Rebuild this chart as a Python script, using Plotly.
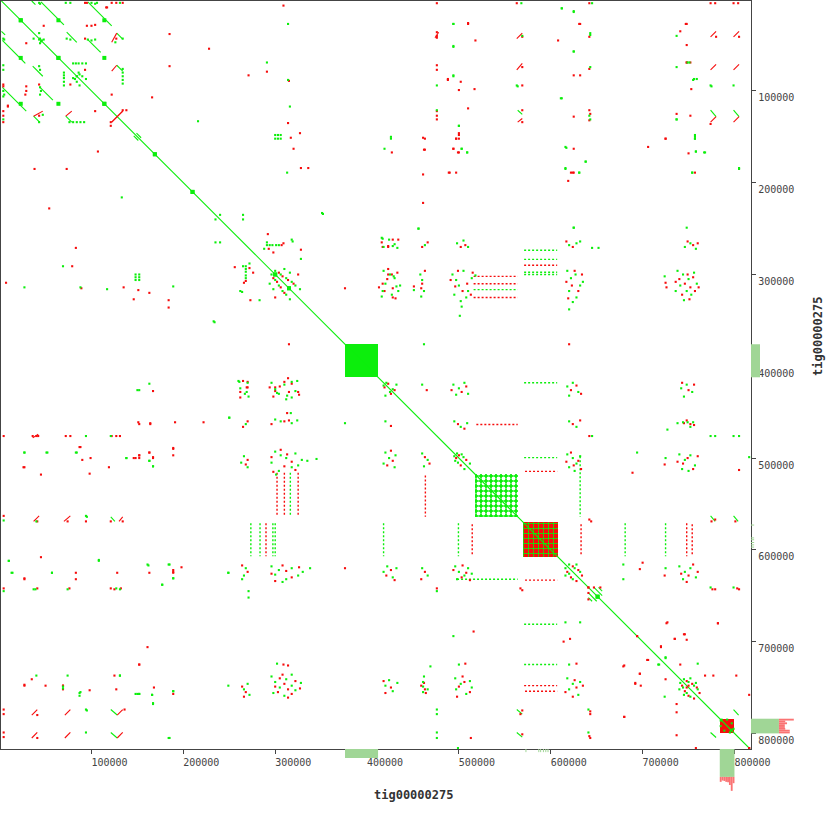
import plotly.graph_objects as go

KB = 1000
CONTIG = "tig00000275"
X_RANGE_KB = [1.5, 818.0]
Y_RANGE_KB = [817.0, 2.0]
TICKS_KB = [100, 200, 300, 400, 500, 600, 700, 800]
TICK_TEXT = ["100000", "200000", "300000", "400000", "500000", "600000", "700000", "800000"]

GREEN = "rgb(12,238,12)"
RED = "rgb(246,12,12)"
COV_GREEN = "rgb(160,214,150)"
COV_PINK = "rgb(250,115,115)"
AXIS = "#444444"

# ---------------- alignment data (kb) ----------------
main_diag = [[0, 0, 817, 817]]

# forward (green) off-diagonal segments x0,y0,x1,y1 (mirrored about the diagonal)
fwd_segs = [
    [35, 2, 39, 6], [45, 3, 70, 28], [96, 3, 122, 29], [73, 36, 84, 47], [96, 44, 110, 58],
    [127.5, 37, 134, 43.5], [127.5, 72, 134, 78.5],
    [121, 564, 125.5, 569], [121, 774, 128, 780], [121, 799, 128, 805],
    [563, 774, 569, 779], [563, 799, 569, 804], [774, 799, 780, 804.5],
    [641, 647, 650, 656], [641, 652, 645, 656], [146, 149, 151, 154],
]
# reverse (red) segments
rev_segs = [
    [122, 47, 127.5, 37], [122, 78.5, 127.5, 72], [122, 134, 134, 122],
    [36, 478, 42, 474],
    [37, 569, 43, 563], [70, 569, 77, 563], [130, 569, 134, 564],
    [35, 780, 41, 774], [71, 780, 77, 774], [128, 780, 134, 774],
    [35, 805, 41, 799], [71, 805, 77, 799], [128, 805, 134, 799],
]

# dotted repeat tracks: (y, x_start, x_end, colour)
dotted_tracks = [
    (302, 516, 564, "r"), (310, 516, 564, "r"), (316.5, 516, 564, "g"), (325, 516, 564, "r"),
    (273.5, 571, 607, "g"), (283.5, 571, 607, "g"), (290, 571, 607, "r"), (297.5, 571, 607, "g"),
    (300, 571, 607, "g"), (418, 571, 607, "g"), (463.5, 519, 564, "r"), (499.5, 571, 607, "g"),
    (514.5, 572, 607, "r"), (632, 498, 564, "g"), (633, 572, 607, "r"), (681, 571, 607, "g"),
    (725, 571, 607, "g"), (748, 571, 607, "r"), (754, 572, 607, "r"),
]

# small repeat blobs (x, y)
blob_pts = [(23, 23), (64, 64), (114, 114), (169, 169), (210, 210), (64, 23), (114, 23), (114, 64),
            (300, 300), (315, 315), (651, 651)]

green_x = [100, 104, 106, 72, 77, 43, 44, 131, 96, 100, 104, 134, 126, 43, 44, 46, 48, 73, 77,
           134, 134, 134, 134, 134, 216, 80, 83, 86, 90, 94, 86, 87, 90, 94, 84,
           94, 121, 4.4, 40, 94, 95, 4.4, 37, 39, 74, 127, 131, 94, 95, 94, 476, 476, 476, 476, 476,
           641, 641, 138, 163, 167, 250, 162, 185, 189, 177, 10, 108, 27, 51, 83, 13, 57, 40, 74, 131,
           69, 87, 148, 152, 166, 167, 189, 185, 87,
           314, 291, 314, 316, 300, 303, 306, 300, 303, 306, 313, 240, 265, 265, 352,
           494, 494, 494, 500, 503, 509, 426, 426, 419, 612, 625, 625, 612, 616, 638, 616, 631,
           749, 755, 737, 757, 757, 758, 767, 754, 805, 748, 625, 456,
           416, 233, 283, 265, 264, 269, 261, 302, 318, 313, 317,
           376, 335, 345, 338, 249, 271, 271, 268,
           469, 462, 461, 461, 632, 616, 725, 718, 499, 760, 494,
           786, 792, 797, 799, 789]
green_y = [4, 5, 4, 4, 4, 4, 5, 4, 44, 45, 44, 43, 47, 37, 43, 45, 44, 43, 44,
           76, 80, 84, 88, 92, 133, 70, 70, 70, 70, 70, 80, 82, 84, 87, 84,
           476, 476, 568, 569, 563, 564, 645, 643, 643, 643, 642, 643, 774, 775, 799, 774, 779, 799, 805, 645,
           774, 799, 500, 503, 509, 456, 617, 616, 631, 638, 612, 611, 494, 494, 494, 625, 625, 737, 737, 737,
           751, 759, 757, 757, 758, 768, 754, 805, 756,
           27, 69, 88, 117, 148, 148, 148, 152, 152, 152, 189, 235, 235, 240, 234,
           27, 52, 84, 138, 163, 167, 150, 152, 163, 10, 14, 57, 108, 161, 177, 184, 189,
           69, 88, 131, 150, 152, 166, 167, 189, 184, 249, 249, 250,
           260, 351, 328, 291, 319, 428, 417, 429, 417, 432, 451,
           462, 503, 501, 620, 625, 645, 652, 463,
           727, 738, 749, 755, 679, 679, 717, 725, 816, 724, 694,
           785, 785, 796, 795, 797]

red_x = [48, 93, 95, 116, 122, 127, 134, 95, 100, 104, 93, 127, 93, 185, 185, 166, 122, 134, 138, 117,
         4.4, 36, 40, 42, 72, 77, 122, 127, 131,
         4.4, 41, 74, 94, 121, 134, 4.4, 41, 76, 121, 125, 132,
         4.4, 4.4, 41, 136, 4.4, 4.4, 41,
         569, 567, 569, 643, 643, 642, 643, 476, 567, 569, 513,
         87, 26, 45, 98, 146, 152, 163, 167, 152, 164, 189, 222, 189, 27, 83, 125, 27, 69, 161, 152, 189,
         309, 228, 291, 271, 315, 314, 317, 327, 320, 328, 336,
         510, 488, 502, 500, 510, 500, 500, 497, 494, 499, 489, 497, 461, 462, 461, 427,
         632, 608, 632, 625, 625, 622, 625, 619, 747, 741, 748, 748, 752, 753, 752, 725, 750,
         376, 256, 273, 268, 270, 269, 294, 300, 300, 310, 314, 325, 313,
         376, 270, 265,
         614, 621, 516, 462, 463, 727, 782, 694, 720, 705, 697, 692, 680, 758, 745, 748, 735,
         768, 777, 802, 680, 741, 816, 641, 641, 641]
red_y = [29, 4, 4, 9, 4, 4, 4, 29, 29, 28, 43, 43, 77, 38, 73, 107, 104, 121, 121, 9,
         476, 476, 476, 476, 476, 476, 476, 476, 476,
         563, 569, 569, 569, 569, 569, 642, 642, 642, 642, 643, 642,
         774, 779, 780, 774, 799, 804, 805,
         775, 779, 801, 776, 779, 803, 805, 642, 642, 644, 805,
         488, 510, 518, 517, 500, 497, 494, 500, 463, 463, 490, 461, 624, 631, 625, 737, 748, 748, 706, 725, 757,
         7, 54, 79, 83, 89, 135, 151, 146, 163, 184, 184,
         27, 88, 90, 99, 119, 148, 152, 152, 163, 167, 189, 189, 151, 164, 191, 167,
         27, 45, 83, 128, 163, 189, 189, 198, 27, 35, 50, 69, 69, 98, 127, 152, 168,
         315, 292, 328, 307, 417, 423, 423, 423, 427, 417, 413, 428, 451,
         620, 460, 466,
         700, 697, 689, 745, 752, 679, 680, 694, 706, 720, 735, 746, 782, 816, 692, 698, 697,
         737, 737, 737, 726, 725, 816, 641, 647, 654]

# repeat-cluster dots between repeat families
cluster_green_x = [291, 294, 297, 301, 304, 288, 318, 424, 430, 418, 433, 498, 505, 510, 620, 628, 632, 746, 752, 758,
                   418, 425, 430, 420, 434, 427, 436, 416, 458, 460, 462, 459,
                   493, 497, 500, 505, 510, 514, 508, 518, 495, 502,
                   618, 622, 627, 632, 620, 628, 635, 624, 724,
                   738, 744, 750, 756, 741, 748, 753, 759, 745, 736,
                   494, 500, 506, 510, 497, 618, 624, 630, 620, 742, 748, 754, 745, 460,
                   495, 502, 509, 620, 628, 744, 752,
                   618, 624, 628, 620, 632, 626, 725, 740, 746, 752, 757, 743, 750,
                   740, 746, 752, 758, 744, 725,
                   300, 306, 312, 318, 322, 327, 316, 310, 745, 750, 756, 760, 752, 758,
                   498, 505, 512, 503, 620, 626, 632, 628, 418, 425, 432]
cluster_green_y = [268, 268, 268, 268, 268, 272, 262, 262, 267, 270, 271, 266, 263, 270, 268, 266, 264, 270, 266, 272,
                   296, 300, 304, 310, 318, 322, 312, 324, 300, 306, 318, 324,
                   300, 306, 312, 296, 318, 304, 325, 301, 322, 329,
                   296, 304, 300, 312, 318, 325, 308, 330, 302,
                   296, 300, 305, 298, 312, 318, 322, 310, 328, 318,
                   420, 424, 418, 430, 431, 422, 418, 428, 432, 424, 420, 428, 433, 420,
                   460, 466, 462, 460, 466, 461, 466,
                   496, 500, 506, 510, 498, 514, 500, 496, 502, 497, 508, 512, 514,
                   618, 624, 620, 630, 632, 620,
                   296, 300, 304, 308, 312, 316, 298, 294, 741, 744, 748, 752, 740, 745,
                   495, 499, 506, 496, 616, 620, 624, 616, 421, 428, 420]
cluster_red_x = [293, 298, 309, 416, 423, 428, 434, 502, 507, 624, 617, 749, 755, 760,
                 422, 428, 433, 419, 431, 460, 463, 459,
                 491, 499, 504, 509, 513, 496, 515,
                 617, 623, 630, 634, 619, 626, 725, 726,
                 740, 746, 752, 757, 749, 743, 755, 761, 751, 736,
                 503, 508, 492, 622, 628, 633, 750, 756, 743, 465,
                 499, 506, 624, 632, 748, 756,
                 622, 630, 617, 625, 633, 724, 744, 749, 755, 760, 738,
                 742, 750, 755, 760, 748, 724,
                 304, 314, 320, 325, 308, 748, 754, 759, 762, 750,
                 500, 508, 624, 630, 634, 423, 430]
cluster_red_y = [272, 276, 266, 265, 270, 262, 262, 270, 268, 270, 264, 264, 268, 266,
                 305, 315, 298, 318, 326, 310, 296, 315,
                 306, 296, 318, 310, 322, 313, 298,
                 308, 312, 318, 300, 326, 296, 309, 314,
                 305, 310, 314, 318, 300, 322, 303, 314, 327, 308,
                 428, 422, 426, 426, 421, 430, 426, 420, 418, 426,
                 463, 468, 463, 459, 459, 464,
                 494, 503, 504, 508, 512, 507, 506, 500, 512, 498, 504,
                 626, 628, 616, 624, 635, 628,
                 298, 306, 310, 300, 302, 743, 746, 750, 756, 748,
                 497, 502, 618, 622, 628, 419, 426]

# self-repeat blocks (start kb, end kb)
solid_blocks = [(376, 412, "g"), (784, 800, "r")]
checker_blocks = [(517, 564, "g"), (570, 608, "r")]

# coverage strips along the axes
cov_regions = [(376, 412), (784, 800)]
cov_depth = [1.0, 3.1]
pink_pos = [784, 786, 788, 790, 792, 794, 796, 798]
pink_bottom = [0.55, 0.4, 0.45, 0.55, 0.6, 0.9, 1.55, 0.7]
pink_right = [1.65, 0.7, 0.9, 0.65, 0.65, 0.7, 1.2, 1.2]
faint_marks = [573, 587, 589, 592, 594.6, 597]
faint_depth = 0.35

# ---------------- build figure ----------------
COL = {"g": GREEN, "r": RED}
fig = go.Figure()


def seg_xy(segs, mirror=True):
    xs, ys = [], []
    for x0, y0, x1, y1 in segs:
        xs += [x0 * KB, x1 * KB, None]
        ys += [y0 * KB, y1 * KB, None]
        if mirror:
            xs += [y0 * KB, y1 * KB, None]
            ys += [x0 * KB, x1 * KB, None]
    return xs, ys


def sym(xl, yl):
    return [v * KB for v in xl] + [v * KB for v in yl], [v * KB for v in yl] + [v * KB for v in xl]


# blocks
for s, e, c in solid_blocks:
    fig.add_trace(go.Bar(x=[(s + e) / 2 * KB], y=[(e - s) * KB], base=[s * KB], width=[(e - s) * KB],
                         marker=dict(color=COL[c], line=dict(width=0)), hoverinfo="skip"))
for s, e, c in checker_blocks:
    if c == "g":
        pat = dict(shape=".", bgcolor=GREEN, fgcolor="white", size=5, solidity=0.45, fillmode="replace")
    else:
        pat = dict(shape="+", bgcolor=RED, fgcolor=GREEN, size=5, solidity=0.3, fillmode="replace")
    fig.add_trace(go.Bar(x=[(s + e) / 2 * KB], y=[(e - s) * KB], base=[s * KB], width=[(e - s) * KB],
                         marker=dict(color=COL[c], line=dict(width=0), pattern=pat), hoverinfo="skip"))

# dotted tracks
for c in ["g", "r"]:
    segs = [[x0, y, x1, y] for (y, x0, x1, cc) in dotted_tracks if cc == c]
    xs, ys = seg_xy(segs)
    fig.add_trace(go.Scatter(x=xs, y=ys, mode="lines", line=dict(color=COL[c], width=1.4, dash="2px,2px"),
                             hoverinfo="skip"))

# solid alignments
xs, ys = seg_xy(main_diag, mirror=False)
fig.add_trace(go.Scatter(x=xs, y=ys, mode="lines", line=dict(color=GREEN, width=1.1), hoverinfo="skip"))
xs, ys = seg_xy(fwd_segs)
fig.add_trace(go.Scatter(x=xs, y=ys, mode="lines", line=dict(color=GREEN, width=1.1), hoverinfo="skip"))
xs, ys = seg_xy(rev_segs)
fig.add_trace(go.Scatter(x=xs, y=ys, mode="lines", line=dict(color=RED, width=1.1), hoverinfo="skip"))

# dots
gx, gy = sym(green_x + cluster_green_x, green_y + cluster_green_y)
rx, ry = sym(red_x + cluster_red_x, red_y + cluster_red_y)
fig.add_trace(go.Scatter(x=rx, y=ry, mode="markers",
                         marker=dict(symbol="square", size=2.1, color=RED, line=dict(width=0)), hoverinfo="skip"))
fig.add_trace(go.Scatter(x=gx, y=gy, mode="markers",
                         marker=dict(symbol="square", size=2.1, color=GREEN, line=dict(width=0)), hoverinfo="skip"))
bx, by = sym([p[0] for p in blob_pts], [p[1] for p in blob_pts])
fig.add_trace(go.Scatter(x=bx, y=by, mode="markers",
                         marker=dict(symbol="square", size=4, color=GREEN, line=dict(width=0)), hoverinfo="skip"))

# coverage strips (outside the plotting area)
PLOT_W, PLOT_H = 749, 748
DEPTH_PX = 9
shapes = []
for (s, e), d in zip(cov_regions, cov_depth):
    shapes.append(dict(type="rect", xref="x", yref="paper", x0=s * KB, x1=e * KB, y0=0,
                       y1=-d * DEPTH_PX / PLOT_H, fillcolor=COV_GREEN, line=dict(width=0)))
    shapes.append(dict(type="rect", yref="y", xref="paper", y0=s * KB, y1=e * KB, x0=1,
                       x1=1 + d * DEPTH_PX / PLOT_W, fillcolor=COV_GREEN, line=dict(width=0)))
base_d = cov_depth[1]
for p, lb, lr in zip(pink_pos, pink_bottom, pink_right):
    shapes.append(dict(type="rect", xref="x", yref="paper", x0=p * KB, x1=(p + 2) * KB,
                       y0=-base_d * DEPTH_PX / PLOT_H, y1=-(base_d + lb) * DEPTH_PX / PLOT_H,
                       fillcolor=COV_PINK, line=dict(width=0)))
    shapes.append(dict(type="rect", yref="y", xref="paper", y0=p * KB, y1=(p + 2) * KB,
                       x0=1 + base_d * DEPTH_PX / PLOT_W, x1=1 + (base_d + lr) * DEPTH_PX / PLOT_W,
                       fillcolor=COV_PINK, line=dict(width=0)))
for m in faint_marks:
    shapes.append(dict(type="line", xref="x", yref="paper", x0=m * KB, x1=m * KB, y0=0,
                       y1=-faint_depth * DEPTH_PX / PLOT_H, line=dict(color=COV_GREEN, width=1)))
    shapes.append(dict(type="line", yref="y", xref="paper", y0=m * KB, y1=m * KB, x0=1,
                       x1=1 + faint_depth * DEPTH_PX / PLOT_W, line=dict(color=COV_GREEN, width=1)))

tickfont = dict(family="DejaVu Sans Mono", size=10, color=AXIS)
axis_common = dict(showgrid=False, zeroline=False, showline=True, linecolor=AXIS, linewidth=1.3, mirror=True,
                   ticks="outside", ticklen=4, tickcolor=AXIS, tickwidth=1.3, tickfont=tickfont,
                   tickvals=[t * KB for t in TICKS_KB], ticktext=TICK_TEXT)
fig.update_xaxes(range=[v * KB for v in X_RANGE_KB], side="bottom", ticklabelshift=18, **axis_common)
fig.update_yaxes(range=[v * KB for v in Y_RANGE_KB], side="right", ticklabelshift=-7, **axis_common)

fig.update_layout(
    width=830, height=829, margin=dict(l=1, r=79, t=1, b=80),
    plot_bgcolor="white", paper_bgcolor="white", showlegend=False, barmode="overlay", bargap=0,
    shapes=shapes,
    annotations=[
        dict(text=CONTIG, xref="paper", yref="paper", x=0.55, y=-0.0615, showarrow=False,
             xanchor="center", yanchor="middle",
             font=dict(family="DejaVu Sans Mono", size=12, color="#333333", weight="bold")),
        dict(text=CONTIG, xref="paper", yref="paper", x=1.0895, y=0.551, showarrow=False, textangle=-90,
             xanchor="center", yanchor="middle",
             font=dict(family="DejaVu Sans Mono", size=12, color="#333333", weight="bold")),
    ],
)

fig.write_html("out.html", config={"displayModeBar": False},
               post_script="document.body.style.margin='0px';")
